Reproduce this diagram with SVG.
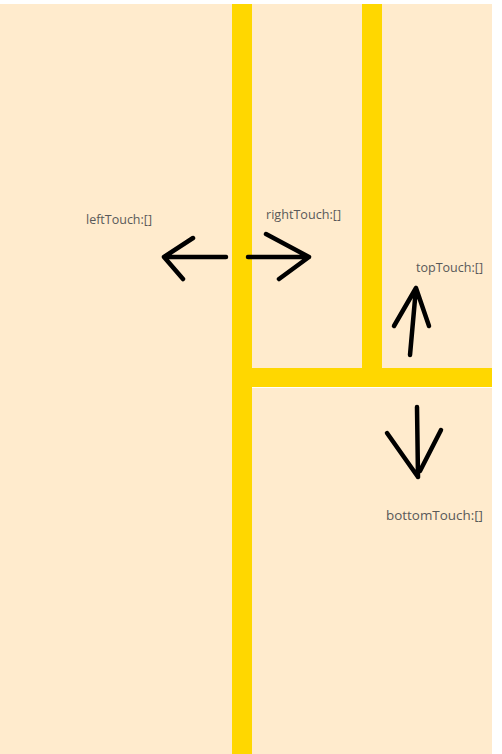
<svg xmlns="http://www.w3.org/2000/svg" width="502" height="754" viewBox="0 0 502 754">
<style>
.bar{fill:#FFD700}
.lbl{font-family:"Open Sans","Liberation Sans","DejaVu Sans",sans-serif;font-size:12.5px;fill:#595959}
.arr{fill:none;stroke:#000;stroke-width:4.5;stroke-linecap:round;stroke-linejoin:round}
</style>
<rect x="0" y="0" width="502" height="754" fill="#FFFFFF"/>
<rect x="0" y="4" width="492" height="750" fill="#FFEBCD"/>
<g id="bars">
<rect class="bar" x="232" y="4" width="20" height="750"/>
<rect class="bar" x="362" y="4" width="20" height="364"/>
<rect class="bar" x="252" y="368" width="240" height="19"/>
<line x1="252" y1="387.5" x2="492" y2="387.5" stroke="#FFFFFF" stroke-width="1"/>
</g>
<g id="connectors">
<path class="arr" d="M226,257 H164 M193,238 L164,257 L183,279"/>
<path class="arr" d="M248,257 H309 M266,234 L309,257 L279,279"/>
<path class="arr" d="M410,355 L416,288 M394,326 L416,288 L429,326"/>
<path class="arr" d="M417,407 L418,477 M387,433 L418,477 M441,430 L420,471"/>
</g>
<g id="leftTouch"><text class="lbl" x="86" y="224" textLength="66" lengthAdjust="spacingAndGlyphs">leftTouch:[]</text></g>
<g id="rightTouch"><text class="lbl" x="266" y="219" textLength="75" lengthAdjust="spacingAndGlyphs">rightTouch:[]</text></g>
<g id="topTouch"><text class="lbl" x="416" y="272" textLength="67" lengthAdjust="spacingAndGlyphs">topTouch:[]</text></g>
<g id="bottomTouch"><text class="lbl" x="386" y="520" textLength="97" lengthAdjust="spacingAndGlyphs">bottomTouch:[]</text></g>
</svg>
